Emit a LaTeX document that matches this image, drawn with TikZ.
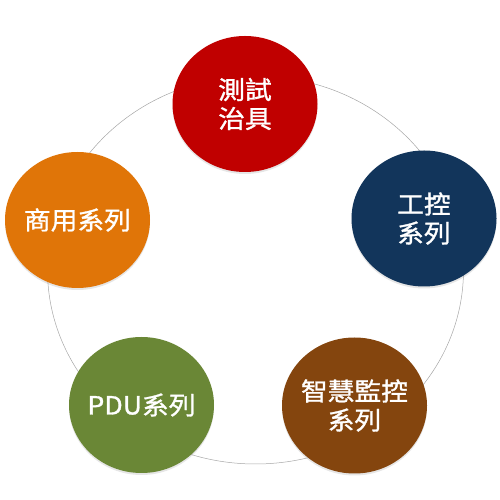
\documentclass[tikz,border=0pt]{standalone}
\usepackage{fontspec}
\newfontfamily\cjk[FakeBold=1.2,FakeStretch=1.07]{Noto Sans CJK TC}
\usetikzlibrary{shapes.geometric,shadows}
\definecolor{cTest}{HTML}{C00000}
\definecolor{cCtrl}{HTML}{12355B}
\definecolor{cShop}{HTML}{E07508}
\definecolor{cPdu}{HTML}{6A8736}
\definecolor{cMon}{HTML}{84450E}

\begin{document}
\begin{tikzpicture}[x=1pt,y=1pt,
  ball/.style={ellipse,minimum width=145pt,minimum height=136pt,
    inner xsep=-6pt,inner ysep=0pt,
    text=white,align=center,font=\cjk\fontsize{25}{29}\selectfont,
    drop shadow={shadow xshift=0pt,shadow yshift=-2pt,opacity=0.2}}]
  \useasboundingbox (0,0) rectangle (500,500);
  % 背景の大きな楕円（各分類をつなぐ細い線）
  \draw[gray!70,line width=0.5pt] (255.5,230) ellipse [x radius=208pt, y radius=194pt];
  % 五つの分類（上から時計回り）
  \node[ball,fill=cTest] (test) at (245,396) {測試\\治具};
  \node[ball,fill=cCtrl] (ctrl) at (424,281.5) {工控\\系列};
  \node[ball,fill=cMon] (mon) at (354.5,94.5) {智慧監控\\系列};
  \node[ball,fill=cPdu] (pdu) at (141.5,95) {PDU系列};
  \node[ball,fill=cShop] (shop) at (77.5,280) {商用系列};
\end{tikzpicture}
\end{document}
